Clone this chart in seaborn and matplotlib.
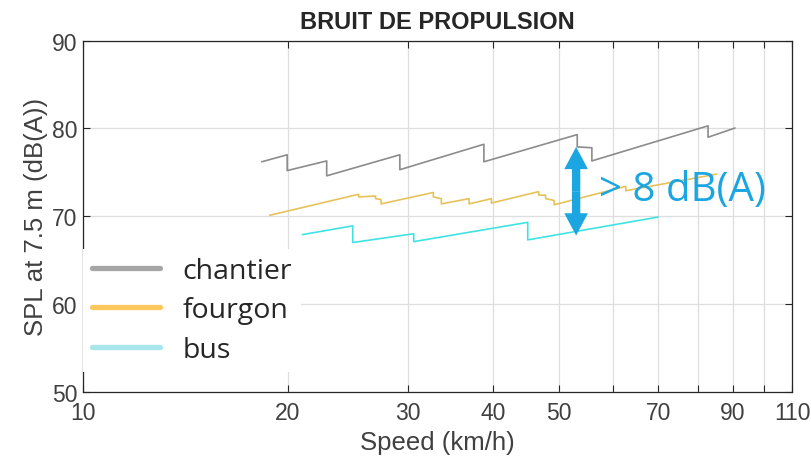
import pandas as pd
import matplotlib
matplotlib.use('Agg')
import matplotlib.pyplot as plt
import seaborn as sns
from matplotlib.lines import Line2D
from matplotlib.ticker import FixedLocator, FixedFormatter, NullLocator

# données (vitesse en km/h, niveau en dB(A))
chantier_v = [18.3, 19.95, 19.95, 22.8, 22.8, 29.2, 29.2, 38.8, 38.8, 53.2, 53.2, 55.9, 55.9, 82.8, 82.8, 90.7]
chantier_spl = [76.2, 77.0, 75.2, 76.3, 74.6, 77.0, 75.3, 78.2, 76.2, 79.3, 77.9, 77.8, 76.3, 80.3, 79.0, 80.05]

fourgon_v = [18.8, 25.4, 25.4, 26.9, 26.9, 27.4, 27.4, 32.7, 32.7, 33.6, 33.6, 36.9, 36.9, 39.8, 39.8,
             46.7, 46.7, 47.8, 47.8, 49.2, 49.2, 62.7, 62.7, 85.3]
fourgon_spl = [70.1, 72.5, 72.2, 72.3, 72.0, 71.9, 71.4, 72.7, 72.2, 72.0, 71.4, 72.0, 71.4, 72.0, 71.5,
               72.8, 72.4, 72.4, 72.0, 71.8, 71.3, 73.4, 72.9, 74.8]

bus_v = [21.0, 24.9, 24.9, 30.6, 30.6, 45.0, 45.0, 69.9]
bus_spl = [67.9, 68.9, 67.0, 68.0, 67.1, 69.3, 67.3, 69.9]

x_ticks = [10, 20, 30, 40, 50, 60, 70, 80, 90, 100, 110]
x_tick_labels = ['10', '20', '30', '40', '50', '', '70', '', '90', '', '110']
y_ticks = [50, 60, 70, 80, 90]

series = ['chantier', 'fourgon', 'bus']
line_colors = ['#8c8c8c', '#e6c25a', '#3fe3e3']
legend_colors = ['#a5a5a5', '#ffc85e', '#a8e6ec']
blue = '#1ba6e1'

# écart entre chantier et bus, indiqué par la flèche
arrow_v = 53.0
arrow_top = 77.9
arrow_bottom = 67.8

frames = []
for nom, v, spl in [('chantier', chantier_v, chantier_spl),
                    ('fourgon', fourgon_v, fourgon_spl),
                    ('bus', bus_v, bus_spl)]:
    d = pd.DataFrame({'vitesse': v, 'spl': spl})
    d['vehicule'] = nom
    frames.append(d)
df = pd.concat(frames, ignore_index=True)

sns.set_theme(style='whitegrid')
plt.rcParams['font.family'] = ['Liberation Sans', 'DejaVu Sans']

fig, ax = plt.subplots(figsize=(8.12, 4.64), dpi=100)
fig.subplots_adjust(left=0.1022, right=0.9754, top=0.9101, bottom=0.1537)

sns.lineplot(data=df, x='vitesse', y='spl', hue='vehicule', hue_order=series,
             palette=line_colors, estimator=None, sort=False, units='vehicule',
             linewidth=1.2, legend=False, ax=ax)

ax.set_xscale('log')
ax.set_xlim(10, 110)
ax.set_ylim(50, 90)
ax.xaxis.set_major_locator(FixedLocator(x_ticks))
ax.xaxis.set_major_formatter(FixedFormatter(x_tick_labels))
ax.xaxis.set_minor_locator(NullLocator())
ax.set_yticks(y_ticks)

ax.grid(True, color='#dedede', linewidth=0.9)
for s in ax.spines.values():
    s.set_color('#262626')
    s.set_linewidth(0.9)
ax.tick_params(axis='both', which='major', direction='in', length=5, width=0.8,
               bottom=True, top=True, left=True, right=True,
               labelsize=16.5, labelcolor='#404040', color='#262626')
ax.tick_params(axis='x', pad=7)
ax.tick_params(axis='y', pad=4)

ax.set_title('BRUIT DE PROPULSION', fontsize=17, fontweight='bold', pad=9)
ax.set_xlabel('Speed (km/h)', fontsize=18.5, color='#404040', labelpad=4)
ax.set_ylabel('SPL at 7.5 m (dB(A))', fontsize=18.5, color='#404040', labelpad=3)

# flèche double : deux flèches pleines depuis le milieu
mid = (arrow_top + arrow_bottom) / 2
for bout in [arrow_top, arrow_bottom]:
    ax.annotate('', xy=(arrow_v, bout), xytext=(arrow_v, mid),
                arrowprops=dict(arrowstyle='simple,head_length=0.8,head_width=0.85,tail_width=0.3',
                                color=blue, lw=0, shrinkA=0, shrinkB=0, mutation_scale=20),
                annotation_clip=False)
ax.text(57.2, 73.0, '> 8 dB(A)', fontsize=29, color=blue, family=['Open Sans', 'DejaVu Sans'],
        ha='left', va='center')

handles = [Line2D([0], [0], color=c, lw=3.8) for c in legend_colors]
leg = ax.legend(handles, series, loc='lower left', bbox_to_anchor=(0.0, 0.055),
                prop={'family': 'Open Sans', 'size': 20.5}, frameon=True, facecolor='white',
                edgecolor='none', framealpha=1, fancybox=False, handlelength=2.4,
                handletextpad=0.8, labelspacing=0.4, borderpad=0.3, borderaxespad=0)
leg.set_zorder(5)

plt.savefig('out.png', dpi=100)
